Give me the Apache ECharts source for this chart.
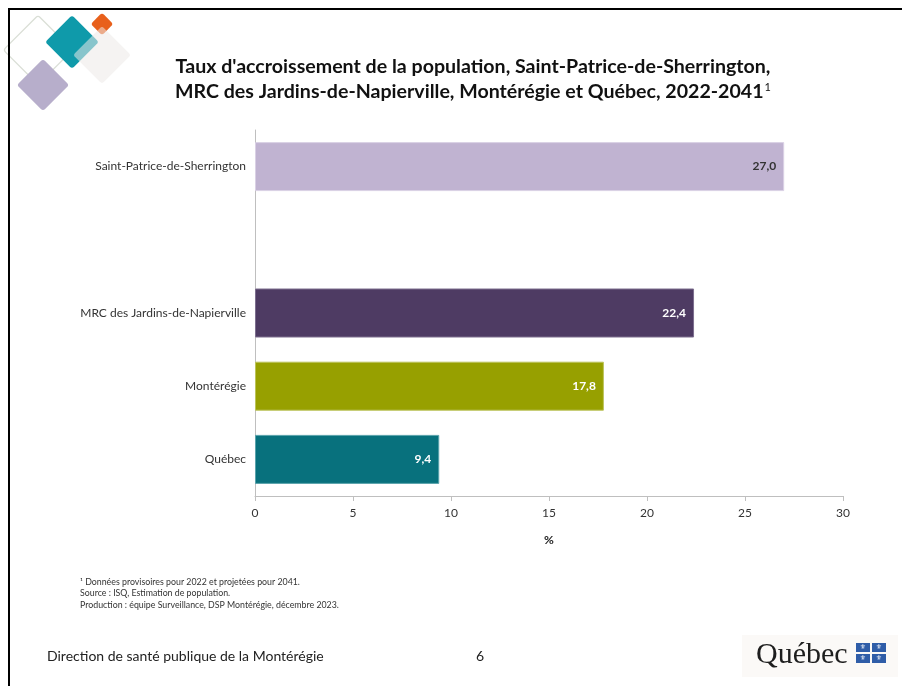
<!DOCTYPE html>
<html>
<head>
<meta charset="utf-8">
<script src="https://cdn.jsdelivr.net/npm/echarts@6/dist/echarts.min.js"></script>
<style>
html,body{margin:0;padding:0;background:#fff;}
#chart{width:902px;height:686px;}
</style>
</head>
<body>
<div id="chart"></div>
<script>
// ---- Data ----
const categories = ['Saint-Patrice-de-Sherrington', '', 'MRC des Jardins-de-Napierville', 'Montérégie', 'Québec'];
const values = [27.0, null, 22.4, 17.8, 9.4];
const xTicks = [0, 5, 10, 15, 20, 25, 30];
const titleLines = ["Taux d'accroissement de la population, Saint-Patrice-de-Sherrington,", "MRC des Jardins-de-Napierville, Montérégie et Québec, 2022-2041"];
const footnotes = ['¹ Données provisoires pour 2022 et projetées pour 2041.', 'Source : ISQ, Estimation de population.', 'Production : équipe Surveillance, DSP Montérégie, décembre 2023.'];
const footerText = 'Direction de santé publique de la Montérégie';
const pageNumber = '6';

// ---- Styles ----
const barColors = ['#C0B3D1', null, '#4E3B63', '#97A000', '#08717D'];
const barBorders = ['#DAD1E5', null, '#7C6E8E', '#BCC35A', '#5AA3AC'];
const labelColors = ['#333333', null, '#ffffff', '#ffffff', '#ffffff'];
const FONT = 'Lato, "Open Sans", sans-serif';

const chart = echarts.init(document.getElementById('chart'), null, {renderer: 'canvas'});

const seriesData = values.map((v, i) => v === null ? null : ({
  value: v,
  itemStyle: {color: barColors[i], borderColor: barBorders[i], borderWidth: 1},
  label: {color: labelColors[i]}
}));

function diamond(cx, cy, s, style, z) {
  return {
    type: 'rect', x: cx, y: cy, rotation: Math.PI / 4, z: z || 1,
    shape: {x: -s / 2, y: -s / 2, width: s, height: s, r: 3},
    style: style
  };
}
function flagSquare(x, y) {
  return [
    {type: 'rect', shape: {x: x, y: y, width: 14, height: 9}, style: {fill: '#2F5DA8'}, z: 10},
    {type: 'text', x: x + 7, y: y + 4.5, z: 11, style: {text: '⚜', fill: '#fff', font: '7px "DejaVu Sans"', align: 'center', verticalAlign: 'middle'}}
  ];
}

const option = {
  backgroundColor: '#ffffff',
  animation: false,
  grid: {left: 255, right: 59, top: 130, bottom: 190, containLabel: false},
  xAxis: {
    type: 'value', min: xTicks[0], max: xTicks[xTicks.length - 1], interval: 5,
    axisLine: {show: true, lineStyle: {color: '#BFBFBF', width: 1}},
    axisTick: {show: true, length: 5, lineStyle: {color: '#BFBFBF'}},
    axisLabel: {color: '#333', fontFamily: FONT, fontSize: 12, margin: 11},
    splitLine: {show: false},
    name: '%', nameLocation: 'middle', nameGap: 38,
    nameTextStyle: {color: '#222', fontFamily: FONT, fontSize: 12, fontWeight: 'bold'}
  },
  yAxis: {
    type: 'category', data: categories, inverse: true,
    axisLine: {show: true, lineStyle: {color: '#BFBFBF', width: 1}},
    axisTick: {show: false},
    axisLabel: {color: '#333', fontFamily: FONT, fontSize: 12, margin: 9}
  },
  series: [{
    type: 'bar', data: seriesData, barWidth: 49,
    label: {
      show: true, position: 'insideRight', distance: 8,
      fontFamily: FONT, fontSize: 12, fontWeight: 'bold',
      formatter: p => p.value.toFixed(1).replace('.', ',')
    }
  }],
  graphic: [
    // slide border
    {type: 'line', shape: {x1: 8, y1: 9, x2: 902, y2: 9}, style: {stroke: '#000', lineWidth: 2}, z: 10},
    {type: 'line', shape: {x1: 9, y1: 8, x2: 9, y2: 686}, style: {stroke: '#000', lineWidth: 2}, z: 10},
    // decorative logo
    diamond(38, 50, 49, {fill: 'none', stroke: '#D9DED5', lineWidth: 1.2}, 1),
    diamond(43, 85, 37, {fill: '#B7AECB'}, 2),
    diamond(72, 42, 38, {fill: '#0F9AAA'}, 3),
    diamond(102, 24, 16, {fill: '#E8601C'}, 4),
    diamond(102, 55, 41, {fill: 'rgba(236,234,232,0.55)'}, 5),
    // title
    {type: 'text', x: 473, y: 67, z: 10, style: {text: titleLines[0], fill: '#111', font: 'bold 19.6px ' + FONT, align: 'center', verticalAlign: 'middle'}},
    {type: 'text', x: 473, y: 92, z: 10, style: {
      text: titleLines[1] + '{sup|1}', fill: '#111', font: 'bold 19.6px ' + FONT, align: 'center', verticalAlign: 'middle',
      rich: {sup: {fontSize: 11, fontWeight: 'normal', fontFamily: FONT, fill: '#111', verticalAlign: 'top', padding: [0, 0, 8, 1]}}
    }},
    // footnotes
    {type: 'text', x: 80, y: 576, z: 10, style: {text: footnotes.join('\n'), fill: '#333', font: '8.8px ' + FONT, lineHeight: 11.5}},
    // footer
    {type: 'text', x: 47, y: 656, z: 10, style: {text: footerText, fill: '#222', font: '14px ' + FONT, verticalAlign: 'middle'}},
    {type: 'text', x: 476, y: 656, z: 10, style: {text: pageNumber, fill: '#222', font: '14px ' + FONT, verticalAlign: 'middle'}},
    // Québec logo
    {type: 'rect', shape: {x: 742, y: 635, width: 156, height: 42}, style: {fill: '#FBF9F7'}, z: 5},
    {type: 'text', x: 756, y: 655, z: 10, style: {text: 'Québec', fill: '#1E1E1E', font: '30px "Liberation Serif", serif', verticalAlign: 'middle'}}
  ].concat(flagSquare(856, 643), flagSquare(872, 643), flagSquare(856, 654), flagSquare(872, 654))
};
chart.setOption(option);
</script>
</body>
</html>
